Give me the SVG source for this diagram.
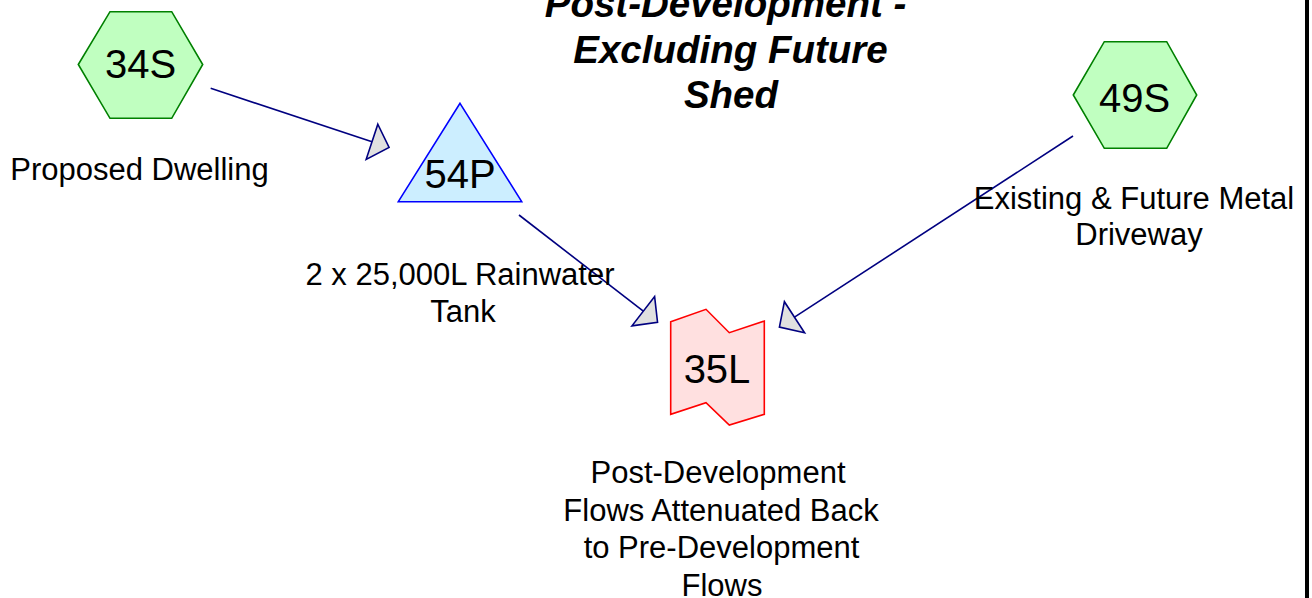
<svg xmlns="http://www.w3.org/2000/svg" width="1312" height="598" viewBox="0 0 1312 598">
<style>
.hex{fill:#c0ffc0;stroke:#008000;stroke-width:1.6}
.pond{fill:#cceeff;stroke:#0000ff;stroke-width:1.6}
.link{fill:#ffe0e0;stroke:#ff0000;stroke-width:1.6}
.id{font-family:"Liberation Sans",Arial,sans-serif;font-size:40px;fill:#000;text-anchor:middle}
.lbl{font-family:"Liberation Sans",Arial,sans-serif;font-size:31px;fill:#000;text-anchor:middle}
.title{font-family:"Liberation Sans",Arial,sans-serif;font-size:38.5px;font-weight:bold;font-style:italic;fill:#000;text-anchor:middle}
.conn{stroke:#000080;stroke-width:1.6;fill:none;marker-end:url(#ah)}
</style>
<defs>
<marker id="ah" markerUnits="userSpaceOnUse" markerWidth="40" markerHeight="40" refX="0" refY="0" orient="auto" overflow="visible">
<path d="M0,-18.5 L18,0 L0,18.5 Z" fill="#e0e0e0" stroke="#000080" stroke-width="1.6" stroke-linejoin="miter"/>
</marker>
</defs>
<rect x="0" y="0" width="1312" height="598" fill="#ffffff"/>
<rect x="1305" y="0" width="4" height="598" fill="#000000"/>
<g id="title">
<text class="title" x="725.5" y="17">Post-Development -</text>
<text class="title" x="730.5" y="63">Excluding Future</text>
<text class="title" x="731" y="108">Shed</text>
</g>
<g id="connectors">
<line class="conn" x1="210.7" y1="88.3" x2="372" y2="141.8"/>
<line class="conn" x1="519" y1="215" x2="643.3" y2="311.2"/>
<line class="conn" x1="1073" y1="136" x2="794.5" y2="317.2"/>
</g>
<g id="node-34S">
<polygon class="hex" points="78.3,64.5 110,11.7 171.7,11.7 202.7,64.5 171.7,118.3 110,118.3"/>
<text class="id" x="140.5" y="78">34S</text>
<text class="lbl" x="139.5" y="180">Proposed Dwelling</text>
</g>
<g id="node-54P">
<polygon class="pond" points="460,103.3 521.7,201.7 398.3,201.7"/>
<text class="id" x="460" y="188">54P</text>
<text class="lbl" x="460" y="285">2 x 25,000L Rainwater</text>
<text class="lbl" x="463" y="321.7">Tank</text>
</g>
<g id="node-49S">
<polygon class="hex" points="1073.3,95 1104.3,41.7 1166.7,41.7 1196.7,95 1166.7,148.3 1104.3,148.3"/>
<text class="id" x="1134.5" y="111.5">49S</text>
<text class="lbl" x="1134" y="208.5">Existing &amp; Future Metal</text>
<text class="lbl" x="1139" y="245">Driveway</text>
</g>
<g id="node-35L">
<polygon class="link" points="670.7,321.7 706,309.3 729.3,332.7 764.3,321 764.3,414.3 729.3,425 706,402.7 670.7,414.3"/>
<text class="id" x="717" y="383.3">35L</text>
<text class="lbl" x="718" y="483.3">Post-Development</text>
<text class="lbl" x="721" y="521">Flows Attenuated Back</text>
<text class="lbl" x="721.5" y="558.3">to Pre-Development</text>
<text class="lbl" x="722" y="595.7">Flows</text>
</g>
</svg>
